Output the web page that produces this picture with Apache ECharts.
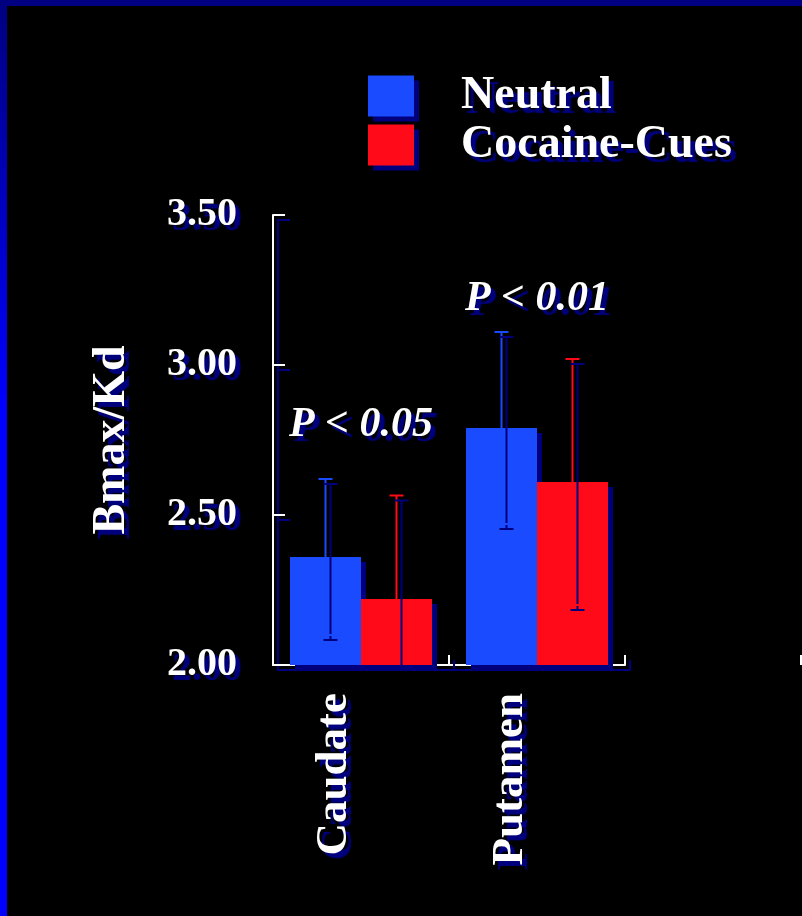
<!DOCTYPE html>
<html>
<head>
<meta charset="utf-8">
<script src="https://cdn.jsdelivr.net/npm/echarts@6/dist/echarts.min.js"></script>
<style>
	html, body { margin: 0; padding: 0; background: #000; }
	#wrap { position: relative; width: 802px; height: 916px; }
	#main { position: absolute; left: 0; top: 0; width: 802px; height: 916px; }
	.edge-top { position: absolute; left: 0; top: 0; width: 802px; height: 6px; background: #000080; }
	.edge-left { position: absolute; left: 0; top: 0; width: 7px; height: 916px; background: linear-gradient(#000080, #0000ff 45%); }
</style>
</head>
<body>
<div id="wrap">
	<div id="main"></div>
	<div class="edge-top"></div>
	<div class="edge-left"></div>
</div>
<script>
// 数据
var regions = ['Caudate', 'Putamen'];
var neutral = [2.36, 2.79];
var neutralErr = [0.26, 0.32];
var cocaine = [2.22, 2.61];
var cocaineErr = [0.345, 0.41];
var pLabels = ['P < 0.05', 'P < 0.01'];
var pLabelY = [2.80, 3.22];
var yTicks = [2.00, 2.50, 3.00, 3.50];

var FONT = '"Liberation Serif", "Times New Roman", serif';
var SHADOW = '#00007e';
var BLUE = '#1a4bff';
var RED = '#ff0a18';
var BAR_W = 71;

function shadowText(size, extra) {
	var t = {
		color: '#fff',
		fontFamily: FONT,
		fontWeight: 'bold',
		fontSize: size,
		textShadowColor: SHADOW,
		textShadowOffsetX: 5,
		textShadowOffsetY: 5,
		textShadowBlur: 1
	};
	for (var k in extra) t[k] = extra[k];
	return t;
}

//误差线
function errBars(vals, errs, idx, color) {
	return {
		type: 'custom',
		z: 5,
		data: vals.map(function(v, i) { return [i, v, errs[i]]; }),
		renderItem: function(params, api) {
			var i = api.value(0), v = api.value(1), e = api.value(2);
			var lo = Math.max(v - e, yTicks[0]);
			var top = api.coord([i, v + e]);
			var bot = api.coord([i, lo]);
			var x = top[0] + (idx - 0.5) * BAR_W;
			var style = {
				stroke: color, lineWidth: 2,
				shadowColor: SHADOW, shadowOffsetX: 5, shadowOffsetY: 5, shadowBlur: 0
			};
			var kids = [
				{ type: 'line', shape: { x1: x, y1: top[1], x2: x, y2: bot[1] }, style: style },
				{ type: 'line', shape: { x1: x - 7, y1: top[1], x2: x + 7, y2: top[1] }, style: style }
			];
			if (v - e > yTicks[0]) {
				kids.push({ type: 'line', shape: { x1: x - 7, y1: bot[1], x2: x + 7, y2: bot[1] }, style: style });
			}
			return { type: 'group', children: kids };
		}
	};
}

var axisShadow = { color: '#fff', width: 2, shadowColor: SHADOW, shadowOffsetX: 5, shadowOffsetY: 5, shadowBlur: 0 };
var barShadow = { shadowColor: SHADOW, shadowOffsetX: 5, shadowOffsetY: 5, shadowBlur: 0 };

var option = {
	backgroundColor: '#000',
	animation: false,
	legend: {
		orient: 'vertical',
		left: 363,
		top: 68,
		icon: 'rect',
		itemWidth: 46,
		itemHeight: 41,
		itemGap: 3,
		data: ['Neutral', 'Cocaine-Cues'],
		itemStyle: barShadow,
		textStyle: shadowText(46, { padding: [18, 0, 0, 42], lineHeight: 27 })
	},
	grid: [
		{ left: 273, right: 177, top: 215, bottom: 251 },
		{ left: 625, right: 1, top: 215, bottom: 251 }
	],
	xAxis: [{
		type: 'category',
		data: regions,
		axisLine: { lineStyle: axisShadow },
		axisTick: { show: true, inside: true, length: 10, lineStyle: axisShadow },
		axisLabel: shadowText(45, {
			rotate: 90, margin: 28, lineHeight: 54,
			formatter: function(v) { return v + '\n'; }
		})
	}, {
		type: 'category',
		gridIndex: 1,
		data: [''],
		axisLine: { show: false },
		axisTick: { show: true, inside: true, length: 10, lineStyle: axisShadow },
		axisLabel: { show: false }
	}],
	yAxis: [{
		type: 'value',
		min: 2,
		max: 3.5,
		interval: 0.5,
		name: 'Bmax/Kd',
		nameLocation: 'middle',
		nameGap: 138,
		nameTextStyle: shadowText(46),
		axisLine: { show: true, lineStyle: axisShadow },
		axisTick: { show: true, inside: true, length: 12, lineStyle: axisShadow },
		splitLine: { show: false },
		axisLabel: shadowText(40, {
			margin: 36,
			formatter: function(v) { return v.toFixed(2); }
		})
	}, {
		type: 'value',
		gridIndex: 1,
		show: false
	}],
	series: [{
		name: 'Neutral',
		type: 'bar',
		data: neutral,
		barWidth: BAR_W,
		barGap: 0,
		itemStyle: Object.assign({ color: BLUE }, barShadow)
	}, {
		name: 'Cocaine-Cues',
		type: 'bar',
		data: cocaine,
		barWidth: BAR_W,
		barGap: 0,
		itemStyle: Object.assign({ color: RED }, barShadow)
	},
	errBars(neutral, neutralErr, 0, BLUE),
	errBars(cocaine, cocaineErr, 1, RED),
	{
		//显著性标注
		type: 'scatter',
		symbolSize: 0,
		z: 6,
		itemStyle: { opacity: 1 },
		data: regions.map(function(r, i) { return [r, pLabelY[i]]; }),
		label: shadowText(42, {
			show: true,
			position: 'inside',
			fontStyle: 'italic',
			formatter: function(p) { return pLabels[p.dataIndex]; }
		})
	}]
};

var myChart = echarts.init(document.getElementById('main'));
myChart.setOption(option);
</script>
</body>
</html>
